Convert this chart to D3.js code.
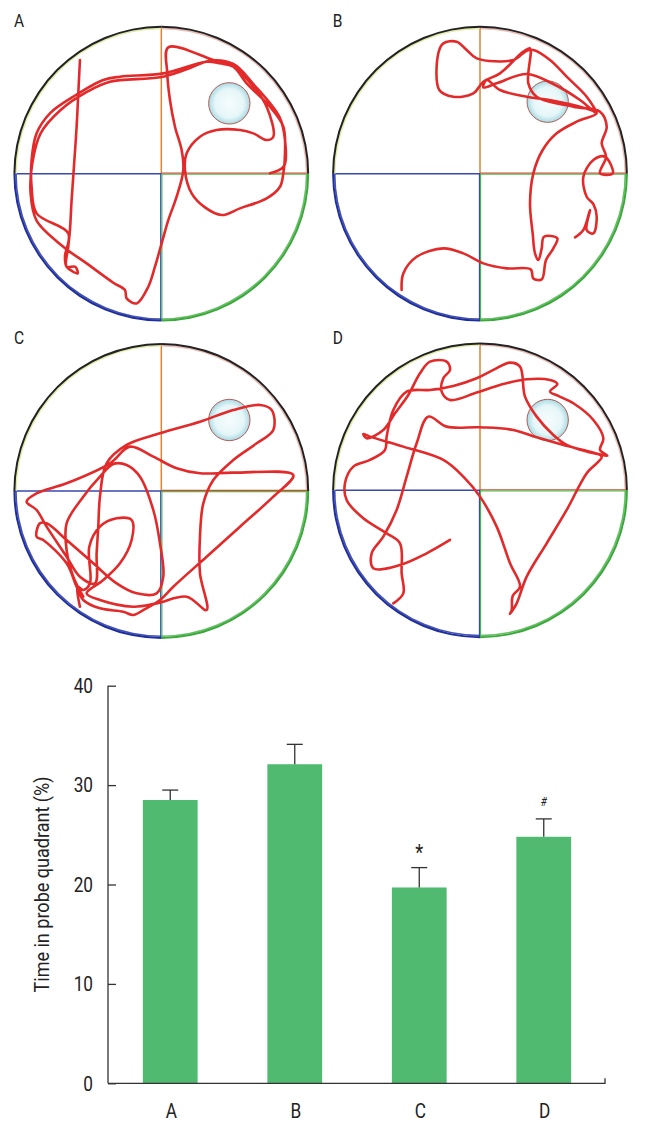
<!DOCTYPE html>
<html>
<head>
<meta charset="utf-8">
<script src="https://cdn.jsdelivr.net/npm/d3@7"></script>
<style>
  body { margin: 0; background: #fff; }
  svg { display: block; }
  text { font-family: "Roboto", "Liberation Sans", sans-serif; fill: #222; }
</style>
</head>
<body>
<svg id="fig" width="645" height="1130"></svg>
<script>
// bar chart data
const groups = ['A', 'B', 'C', 'D'];
const meanTime = [28.5, 32.1, 19.7, 24.8];
const semTime = [1.0, 2.0, 2.0, 1.8];
const sigMarks = ['', '', '*', '#'];
const yTicks = [0, 10, 20, 30, 40];

// swim tracks, camera coords (pool frame per panel below)
const trackA = [[240,180],[236,260],[230,380],[222,500],[215,600],[210,690],[205,740],[200,800],[226,800],[233,820],
  [200,800],[195,770],[205,700],[110,640],[95,560],[95,480],[110,400],[150,340],[220,290],[310,240],[360,230],[490,220],
  [620,185],[660,190],[700,200],[760,260],[800,320],[820,410],[800,420],[760,400],[720,390],[650,390],[600,410],[560,460],
  [555,510],[575,580],[615,622],[665,645],[720,625],[800,595],[840,560],[850,520],[855,460],[850,380],[810,320],[740,250],
  [700,200],[640,180],[505,142],[502,220],[510,300],[525,380],[545,450],[550,510],[530,590],[505,660],[485,730],[465,800],
  [445,860],[410,910],[380,895],[375,870],[340,848],[260,790],[190,740],[110,662],[92,580],[97,490],[122,400],[182,330],
  [262,275],[330,245],[480,232],[560,208],[630,182],[700,192],[760,252],[838,350],[855,420],[852,498],[810,520]];

const trackB = [[245,870],[250,820],[290,770],[370,745],[430,760],[490,790],[560,805],[632,808],[640,835],[665,838],
  [678,780],[700,745],[712,715],[672,710],[665,745],[655,780],[645,760],[638,700],[630,610],[640,520],[668,450],[710,400],
  [770,365],[830,340],[780,320],[700,302],[620,290],[540,270],[500,240],[490,262],[530,250],[620,222],[700,252],[780,300],
  [830,340],[800,290],[740,230],[690,180],[640,150],[620,152],[580,180],[470,175],[440,150],[410,125],[370,130],[355,160],
  [358,270],[400,290],[460,280],[490,245],[540,220],[610,155],[630,145],[625,250],[650,290],[760,320],[840,335],[860,380],
  [845,430],[858,470],[840,520],[878,520],[855,470],[820,480],[790,530],[800,590],[820,612],[830,650],[820,700],[800,690],
  [810,630],[790,690],[765,712]];

const trackC = [[240,890],[233,830],[250,840],[270,820],[268,710],[300,650],[350,625],[395,630],[395,690],[360,760],
  [310,810],[260,850],[300,870],[400,890],[470,880],[560,860],[620,900],[600,790],[600,680],[610,580],[640,510],[700,450],
  [770,400],[820,360],[815,300],[780,285],[700,300],[600,335],[480,370],[380,405],[320,460],[300,560],[295,650],[290,730],
  [285,820],[240,800],[200,740],[140,650],[110,600],[80,575],[110,550],[200,520],[330,460],[390,410],[460,440],[530,475],
  [600,490],[700,488],[880,495],[820,560],[720,650],[620,740],[520,830],[480,870],[430,900],[400,915],[370,905],[300,895],
  [250,870],[230,830],[200,760],[130,690],[110,680],[120,640],[140,640],[200,690],[280,760],[350,820],[410,850],[470,850],
  [490,800],[480,700],[460,600],[420,500],[380,465],[340,462],[300,500],[250,560],[200,640],[200,720],[220,800],[250,860]];

const trackD = [[390,690],[320,730],[240,765],[160,775],[155,730],[190,680],[230,600],[260,500],[290,400],[325,320],
  [380,350],[480,352],[580,360],[650,382],[720,402],[790,420],[862,437],[840,420],[850,385],[820,330],[760,280],[715,258],
  [690,245],[712,222],[690,210],[620,208],[540,225],[470,248],[390,270],[365,245],[370,205],[390,180],[380,155],[330,155],
  [300,190],[265,255],[225,310],[190,360],[140,385],[130,372],[150,380],[250,410],[370,450],[430,500],[480,560],[530,650],
  [570,760],[600,830],[578,858],[575,900],[570,912],[590,880],[620,800],[680,700],[740,600],[800,490],[845,440],[800,425],
  [740,405],[700,375],[650,320],[615,260],[600,170],[570,158],[520,180],[470,205],[400,228],[330,240],[260,245],[220,300],
  [200,380],[195,420],[150,450],[100,470],[75,520],[80,570],[130,625],[200,670],[240,700],[245,790],[250,850],[220,880]];

const tracks = [trackA, trackB, trackC, trackD];
// pool centre x, centre y, radius in camera coords
const poolFrames = [[484,521,440],[480,521,440],[484,543,440],[480,541,440]];
// hidden platform centre x, y, radius
const platforms = [[688,310,62],[683,305,62],[688,330,62],[683,330,62]];

const svg = d3.select('#fig');

// condensed-looking text: squeeze Roboto horizontally
function label(parent, x, y, str, size, anchor, rot, sq) {
  const g = parent.append('g')
    .attr('transform', `translate(${x},${y}) rotate(${rot || 0}) scale(${sq || 0.84},1)`);
  return g.append('text').attr('text-anchor', anchor || 'start')
    .attr('font-size', size).text(str);
}

// ---- maze panels ----
const panelPos = [[161.3,173.7],[480,173.7],[161.3,491],[480,490.3]];
const R = 146.7;

const defs = svg.append('defs');
const grad = defs.append('radialGradient').attr('id', 'plat');
grad.append('stop').attr('offset', '0%').attr('stop-color', '#f6fcfd');
grad.append('stop').attr('offset', '70%').attr('stop-color', '#e6f6f8');
grad.append('stop').attr('offset', '100%').attr('stop-color', '#a6dbe4');

const quadColors = ['#222', '#3aa83a', '#1e2e9e', '#222'];
const innerColors = ['#d9776a', '#57b857', '#3040a8', '#dfe89a'];

groups.forEach((g, i) => {
  const [pcx, pcy] = panelPos[i];
  const [cx, cy, r] = poolFrames[i];
  const sx = d3.scaleLinear().domain([cx - r, cx + r]).range([pcx - R, pcx + R]);
  const sy = d3.scaleLinear().domain([cy - r, cy + r]).range([pcy - R, pcy + R]);
  const p = svg.append('g');

  // quadrant lines
  p.append('line').attr('x1', pcx).attr('x2', pcx).attr('y1', pcy).attr('y2', pcy - R)
    .attr('stroke', '#d8843a').attr('stroke-width', 1.5);
  p.append('line').attr('x1', pcx - R).attr('x2', pcx).attr('y1', pcy).attr('y2', pcy)
    .attr('stroke', '#3848b0').attr('stroke-width', 1.5);
  p.append('line').attr('x1', pcx).attr('x2', pcx + R).attr('y1', pcy - 0.6).attr('y2', pcy - 0.6)
    .attr('stroke', '#d04a3a').attr('stroke-width', 1.1);
  p.append('line').attr('x1', pcx).attr('x2', pcx + R).attr('y1', pcy + 0.6).attr('y2', pcy + 0.6)
    .attr('stroke', '#5ab84a').attr('stroke-width', 1.1);
  p.append('line').attr('x1', pcx - 0.6).attr('x2', pcx - 0.6).attr('y1', pcy).attr('y2', pcy + R)
    .attr('stroke', '#3040b0').attr('stroke-width', 1.1);
  p.append('line').attr('x1', pcx + 0.6).attr('x2', pcx + 0.6).attr('y1', pcy).attr('y2', pcy + R)
    .attr('stroke', '#40b050').attr('stroke-width', 1.1);

  // rim, coloured by quadrant
  for (let q = 0; q < 4; q++) {
    const a0 = q * Math.PI / 2, a1 = a0 + Math.PI / 2;
    p.append('path')
      .attr('transform', `translate(${pcx},${pcy})`)
      .attr('d', d3.arc()({innerRadius: R - 2.2, outerRadius: R - 0.6, startAngle: a0, endAngle: a1}))
      .attr('fill', innerColors[q]).attr('opacity', q == 0 ? 0.5 : 0.9);
    p.append('path')
      .attr('transform', `translate(${pcx},${pcy})`)
      .attr('d', d3.arc()({innerRadius: R - 0.8, outerRadius: R + 1.2, startAngle: a0, endAngle: a1}))
      .attr('fill', quadColors[q]);
  }

  // platform
  const [px, py, pr] = platforms[i];
  p.append('circle').attr('cx', sx(px)).attr('cy', sy(py)).attr('r', sx(px + pr) - sx(px))
    .attr('fill', 'url(#plat)').attr('stroke', '#b55a55').attr('stroke-width', 1);

  // swim path
  const line = d3.line().x(d => sx(d[0])).y(d => sy(d[1])).curve(d3.curveCatmullRom.alpha(0.5));
  p.append('path').attr('d', line(tracks[i])).attr('fill', 'none')
    .attr('stroke', '#e32a2a').attr('stroke-width', 2.6)
    .attr('stroke-linejoin', 'round').attr('stroke-linecap', 'round');

  label(p, pcx - R - 0.5, pcy - R, g, 18.5);
});

// ---- bar chart ----
const y = d3.scaleLinear().domain([0, 40]).range([1083.3, 685.7]);
const x = d3.scaleBand().domain(groups).range([108, 606]).paddingInner(0.56).paddingOuter(0.28);
const axisCol = '#333';

const chart = svg.append('g');

chart.selectAll('rect.bar').data(groups).join('rect')
  .attr('class', 'bar')
  .attr('x', d => x(d))
  .attr('width', x.bandwidth())
  .attr('y', (d, i) => y(meanTime[i]))
  .attr('height', (d, i) => y(0) - y(meanTime[i]))
  .attr('fill', '#50bb70');

// error bars (upper only)
groups.forEach((g, i) => {
  const cx = x(g) + x.bandwidth() / 2;
  const top = y(meanTime[i] + semTime[i]);
  chart.append('line').attr('x1', cx).attr('x2', cx).attr('y1', y(meanTime[i])).attr('y2', top)
    .attr('stroke', axisCol).attr('stroke-width', 1.3);
  chart.append('line').attr('x1', cx - 8).attr('x2', cx + 8).attr('y1', top).attr('y2', top)
    .attr('stroke', axisCol).attr('stroke-width', 1.3);
  if (sigMarks[i] == '*') {
    label(chart, cx, top - 8, '*', 22, 'middle').attr('fill', '#444');
  } else if (sigMarks[i] == '#') {
    label(chart, cx, top - 13, '#', 12, 'middle').attr('fill', '#555').attr('font-style', 'italic');
  }
});

// y axis
const yAxis = chart.append('g').attr('transform', 'translate(108,0)')
  .call(d3.axisRight(y).tickValues(yTicks).tickSize(8).tickFormat(''));
yAxis.select('.domain').attr('d', `M0,${y(40)}V${y(0)}`);
yAxis.selectAll('line, path').attr('stroke', axisCol).attr('stroke-width', 1.3);

yTicks.forEach(t => {
  label(chart, 93, y(t) + 7.3, t, 20.5, 'end');
});

// x axis
chart.append('path')
  .attr('d', `M108,${y(0)}H605V${y(0) - 5}`)
  .attr('fill', 'none').attr('stroke', axisCol).attr('stroke-width', 1.3);

groups.forEach(g => {
  label(chart, x(g) + x.bandwidth() / 2 + 1, 1117.5, g, 20.5, 'middle');
});

label(chart, 48.5, (y(0) + y(40)) / 2, 'Time in probe quadrant (%)', 20.5, 'middle', -90, 0.88);
</script>
</body>
</html>
